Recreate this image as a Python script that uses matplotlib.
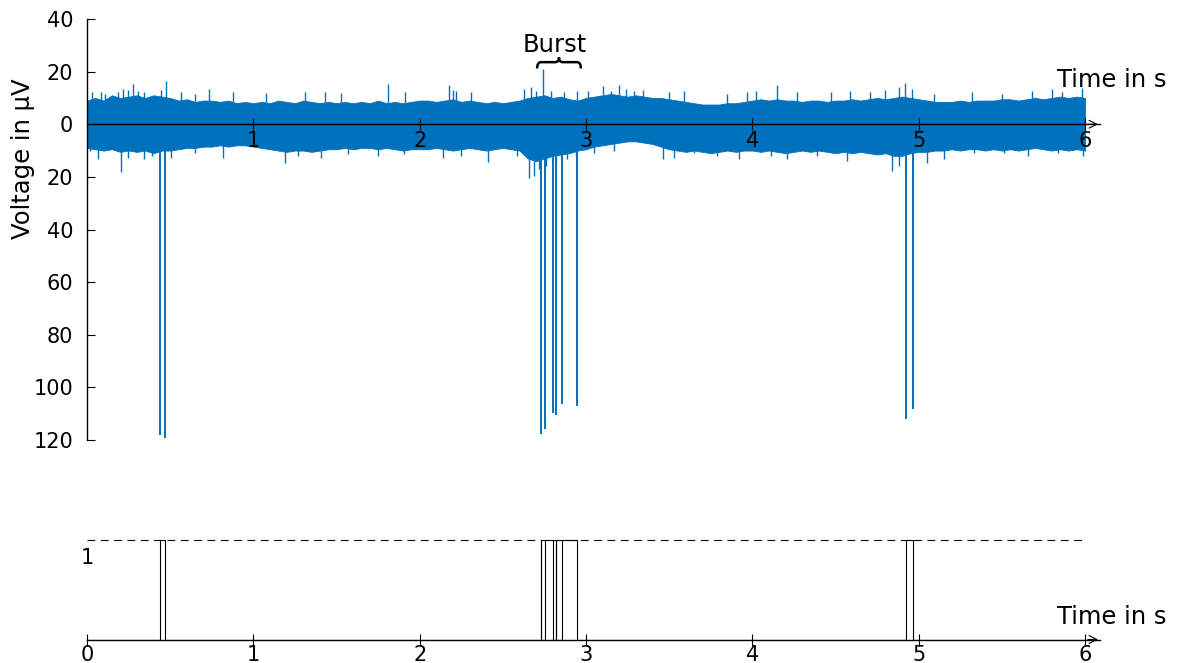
import matplotlib
matplotlib.use("Agg")
import matplotlib.pyplot as plt
from matplotlib.path import Path
from matplotlib.patches import PathPatch

# ---------------- data ----------------
# noise band envelope (dense body of the recording), every 0.05 s
env_t = [i / 20 for i in range(121)]
env_upper = [9, 10, 9, 11, 10, 10.5, 11, 10, 11, 10.5, 10,
             9, 9.5, 8.5, 9, 9, 8.5, 9, 8, 8.5, 8,
             8.5, 8, 9, 8.5, 8, 9, 8.5, 8, 8.5, 8,
             8.5, 8, 8.5, 8, 9, 8, 8.5, 8, 8.5, 9,
             9, 8.5, 9, 9.5, 8.5, 9, 8.5, 8, 8.5, 8,
             8.5, 9, 10, 10.5, 11, 10, 10.5, 9.5, 9, 10,
             10.5, 11, 11.5, 11, 10.5, 11, 10.5, 10, 10, 9.5,
             9, 8.5, 8, 7.5, 7.5, 7.5, 8, 8, 8.5, 9,
             9.5, 9, 9.5, 9, 9, 8.5, 9, 9, 8.5, 9,
             9, 9.5, 9, 9.5, 10, 9.5, 10, 10.5, 10, 9.5,
             9, 8.5, 8.5, 8.5, 9, 8.5, 9, 9, 9, 9.5,
             9.5, 9, 9.5, 10, 9.5, 10, 10.5, 10, 10.5, 10]
env_lower = [-9, -9.5, -10, -9.5, -10.5, -10, -10.5, -10, -11, -10, -10,
             -9.5, -9, -9, -8.5, -8.5, -8, -8.5, -8, -8, -8.5,
             -9, -9.5, -10, -10.5, -10, -10, -10.5, -10, -9.5, -9.5,
             -9, -9.5, -9, -9, -9.5, -9, -9.5, -10, -9.5, -9.5,
             -9.5, -9, -9.5, -10, -9.5, -9, -9.5, -10, -9.5, -9,
             -9.5, -10, -13, -14, -13, -12, -11.5, -11, -10, -9.5,
             -8.5, -8, -7.5, -7, -6.5, -6.5, -7, -7.5, -8.5, -9.5,
             -10, -10.5, -10, -10.5, -11, -10.5, -10, -10.5, -10, -10,
             -10.5, -10, -10.5, -11, -10.5, -10, -10.5, -10, -10.5, -11,
             -10.5, -11, -10.5, -11, -11.5, -11, -12, -12, -11, -10.5,
             -10.5, -10, -10, -9.5, -10, -9.5, -9.5, -10, -9.5, -10,
             -9.5, -10, -9.5, -9, -9.5, -10, -9.5, -10, -9.5, -10]

# individual noise peaks sticking out of the band
peak_up_t = [0.032, 0.084, 0.108, 0.188, 0.218, 0.244, 0.274, 0.308, 0.340, 0.444,
             0.474, 0.568, 0.648, 0.732, 0.878, 1.078, 1.308, 1.428, 1.528, 1.808,
             1.912, 2.178, 2.198, 2.218, 2.308, 2.628, 2.668, 2.698, 2.744, 2.788,
             2.868, 2.948, 3.01, 3.10, 3.15, 3.20, 3.24, 3.29, 3.34, 3.50,
             3.59, 3.85, 3.97, 4.02, 4.15, 4.27, 4.47, 4.59, 4.71, 4.80,
             4.88, 4.92, 4.96, 5.09, 5.32, 5.50, 5.68, 5.80, 5.86, 5.98]
peak_up_v = [12.1, 12.4, 11.4, 12.2, 13.5, 13.0, 15.4, 12.7, 12.1, 13.0,
             16.6, 12.1, 11.4, 13.3, 12.1, 11.7, 12.4, 12.1, 11.7, 15.2,
             12.1, 14.9, 13.0, 12.7, 12.1, 13.3, 14.0, 12.7, 20.9, 12.7,
             12.1, 12.7, 12.7, 14.6, 12.7, 14.9, 13.3, 12.7, 13.0, 12.3,
             12.7, 11.4, 12.3, 12.7, 14.9, 12.1, 12.1, 12.7, 12.1, 13.0,
             14.0, 15.6, 13.5, 11.4, 12.3, 11.4, 12.7, 13.3, 12.3, 13.7]
peak_dn_t = [0.018, 0.068, 0.204, 0.248, 0.344, 0.388, 0.508, 0.648, 0.818, 1.188,
             1.268, 1.408, 1.568, 1.748, 1.908, 2.138, 2.248, 2.408, 2.588, 2.658,
             2.688, 2.718, 2.758, 2.818, 2.888, 2.938, 3.05, 3.17, 3.46, 3.53,
             3.65, 3.79, 3.92, 4.11, 4.21, 4.39, 4.57, 4.71, 4.84, 4.88,
             5.05, 5.15, 5.33, 5.51, 5.66, 5.84, 5.99]
peak_dn_v = [-10.2, -13.1, -18.1, -12.7, -13.3, -12.1, -12.7, -10.8, -12.7, -14.6,
             -12.1, -13.0, -11.4, -12.1, -11.4, -13.0, -12.1, -14.2, -12.1, -20.3,
             -19.7, -17.1, -15.9, -14.6, -13.3, -12.1, -10.8, -10.2, -13.1, -12.7,
             -10.8, -12.1, -13.1, -12.1, -13.1, -12.1, -14.0, -10.8, -17.8, -15.9,
             -14.6, -13.3, -10.8, -10.8, -12.1, -10.8, -12.1]

# detected spikes (action potentials)
spike_t = [0.439, 0.469, 2.727, 2.751, 2.799, 2.820, 2.855, 2.945, 4.922, 4.968]
spike_v = [-118, -119.4, -117.8, -116, -109.8, -110.5, -106.4, -107, -112, -108.3]

# binary spike train (intervals at level 1)
on_start = [0.439, 2.727, 2.751, 2.820, 2.855, 4.922]
on_end = [0.469, 2.727, 2.799, 2.820, 2.945, 4.968]

burst_span = (2.706, 2.969)

yticks = [-120, -100, -80, -60, -40, -20, 0, 20, 40]
yticklabels = ["120", "100", "80", "60", "40", "20", "0", "20", "40"]
xticks_top = [1, 2, 3, 4, 5, 6]
xticks_bot = [0, 1, 2, 3, 4, 5, 6]

# ---------------- figure ----------------
BLUE = "#0072BD"
W, H = 1181, 663
fig = plt.figure(figsize=(W / 100, H / 100), dpi=100)


def px_axes(x0, y0, x1, y1):
    return fig.add_axes([x0 / W, 1 - y1 / H, (x1 - x0) / W, (y1 - y0) / H])


TICK_FS = 15
LAB_FS = 17.5

# ---- top panel ----
ax = px_axes(87, 19, 1100, 440)
ax.set_axisbelow(False)
ax.set_xlim(0, 6.09)
ax.set_ylim(-120, 40)
ax.fill_between(env_t, env_lower, env_upper, color=BLUE, lw=0.6, edgecolor=BLUE, zorder=2)
ax.vlines(peak_up_t, 0, peak_up_v, color=BLUE, lw=1.0, zorder=2)
ax.vlines(peak_dn_t, 0, peak_dn_v, color=BLUE, lw=1.0, zorder=2)
ax.vlines(spike_t, 0, spike_v, color=BLUE, lw=1.4, zorder=2)

for s in ["top", "right"]:
    ax.spines[s].set_visible(False)
ax.spines["bottom"].set_position(("data", 0))
ax.spines["bottom"].set_zorder(5)
ax.spines["left"].set_zorder(5)
for s in ["bottom", "left"]:
    ax.spines[s].set_linewidth(1.0)
ax.set_yticks(yticks)
ax.set_yticklabels(yticklabels)
ax.set_xticks(xticks_top)
ax.set_xticklabels([str(v) for v in xticks_top])
ax.tick_params(axis="y", direction="in", length=6, width=0.8, labelsize=TICK_FS, pad=10)
ax.tick_params(axis="x", direction="inout", length=8, width=0.8, labelsize=TICK_FS, pad=1)
ax.annotate("", xy=(6.095, 0), xytext=(6.0, 0),
            arrowprops=dict(arrowstyle="->", lw=0.8, color="black", mutation_scale=14),
            annotation_clip=False, zorder=6)

# brace + label
x0, x1 = burst_span
xm = (x0 + x1) / 2
yb, ymid, ytop = 21.2, 23.6, 25.4
dx = (x1 - x0) * 0.09
verts = [(x0, yb), (x0, ymid), (x0 + dx, ymid), (xm - dx, ymid), (xm, ymid), (xm, ytop),
         (xm, ymid), (xm + dx, ymid), (x1 - dx, ymid), (x1, ymid), (x1, yb)]
codes = [Path.MOVETO, Path.CURVE3, Path.CURVE3, Path.LINETO, Path.CURVE3, Path.CURVE3,
         Path.CURVE3, Path.CURVE3, Path.LINETO, Path.CURVE3, Path.CURVE3]
ax.add_patch(PathPatch(Path(verts, codes), fill=False, lw=1.8, edgecolor="black",
                       capstyle="butt", zorder=6, clip_on=False))
ax.text(2.811, 27.3, "Burst", ha="center", va="baseline", fontsize=LAB_FS)

fig.text(1112 / W, 1 - 80 / H, "Time in s", ha="center", va="center", fontsize=LAB_FS)
fig.text(23 / W, 1 - 159 / H, "Voltage in μV", rotation=90, ha="center", va="center",
         fontsize=LAB_FS)

# ---- bottom panel ----
ax2 = px_axes(87, 510, 1100, 639.5)
ax2.set_axisbelow(False)
ax2.set_xlim(0, 6.09)
ax2.set_ylim(0, 1.3)
ax2.plot([0, 6], [1, 1], color="black", lw=0.8, dashes=(7, 5))
xs, ys = [0], [0]
for s, e in zip(on_start, on_end):
    xs += [s, s, e, e]
    ys += [0, 1, 1, 0]
xs.append(6.0)
ys.append(0)
ax2.plot(xs, ys, color="black", lw=0.8)
for s in ["top", "right", "left"]:
    ax2.spines[s].set_visible(False)
ax2.spines["bottom"].set_linewidth(1.0)
ax2.set_yticks([])
ax2.set_xticks(xticks_bot)
ax2.set_xticklabels([str(v) for v in xticks_bot])
ax2.tick_params(axis="x", direction="inout", length=8, width=0.8, labelsize=TICK_FS, pad=0)
ax2.annotate("", xy=(6.095, 0), xytext=(6.0, 0),
             arrowprops=dict(arrowstyle="->", lw=0.8, color="black", mutation_scale=14),
             annotation_clip=False, zorder=6)
ax2.text(0, 0.82, "1", ha="center", va="center", fontsize=TICK_FS)
fig.text(1112 / W, 1 - 617 / H, "Time in s", ha="center", va="center", fontsize=LAB_FS)

fig.savefig("out.png", dpi=100)
